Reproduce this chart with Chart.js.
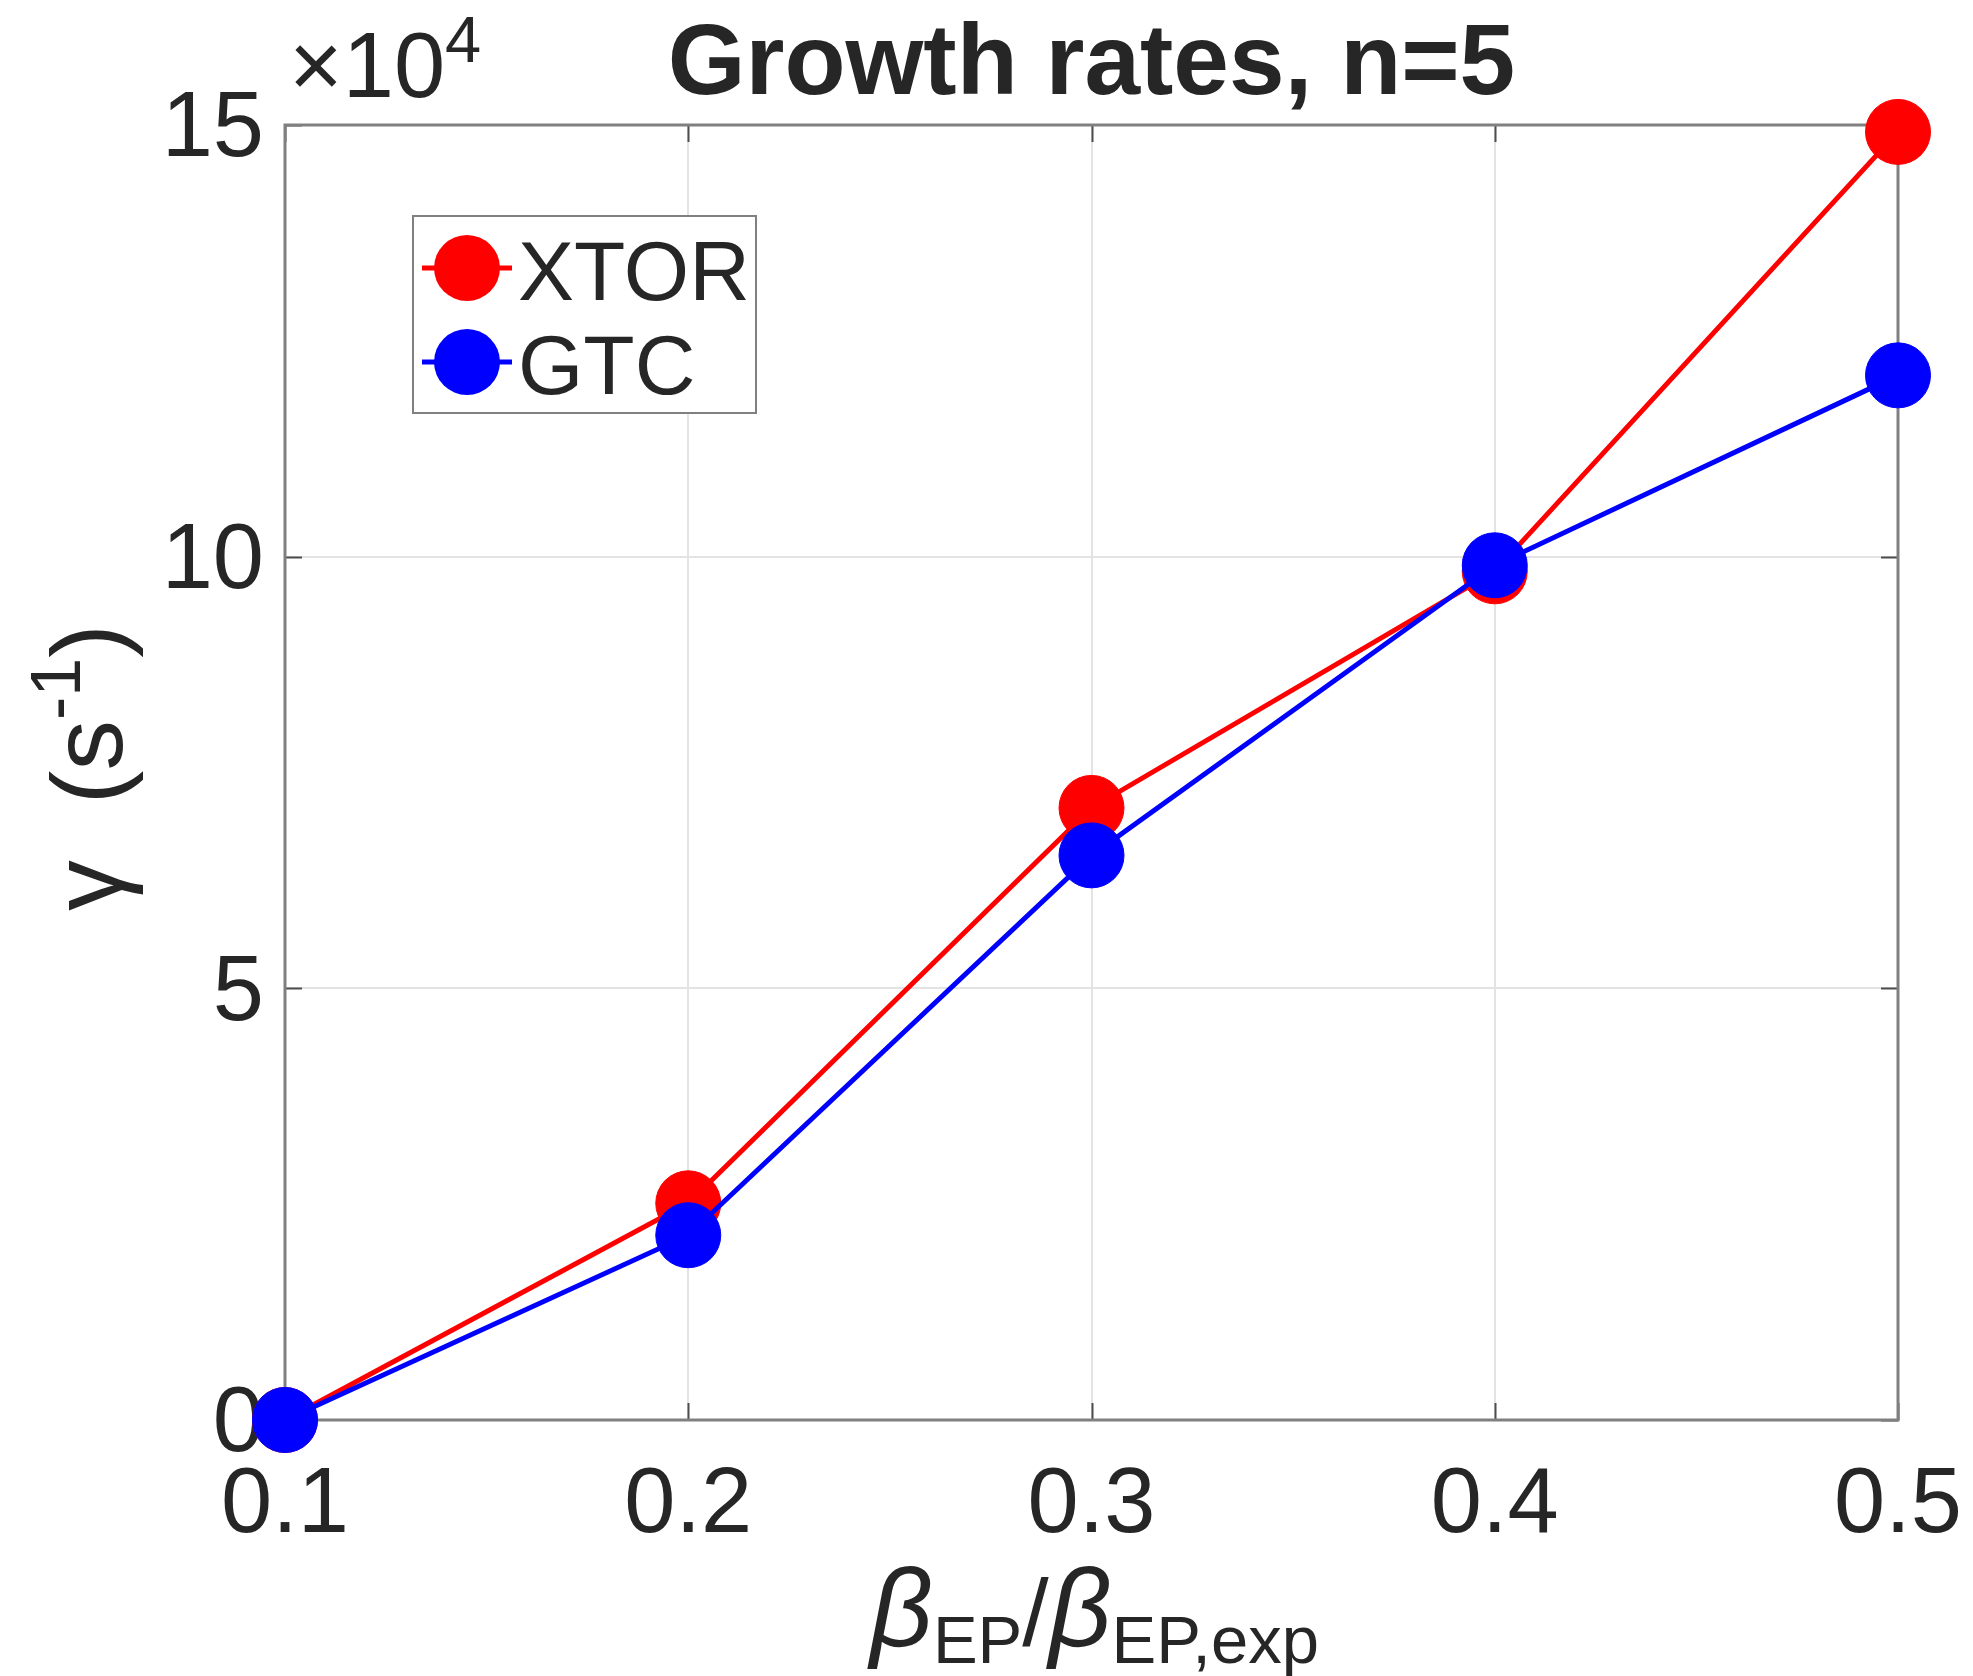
<!DOCTYPE html>
<html>
<head>
<meta charset="utf-8">
<title>Growth rates, n=5</title>
<script src="https://cdn.jsdelivr.net/npm/chart.js@4.4.1/dist/chart.umd.min.js"></script>
<style>
  html, body { margin: 0; padding: 0; background: #ffffff; }
  #wrap { width: 1973px; height: 1676px; position: relative; }
</style>
</head>
<body>
<div id="wrap"><canvas id="growth"></canvas></div>
<script>
// Normalised fast-particle beta (x) and linear growth rate gamma in s^-1 (y)
const betaRatio = [0.1, 0.2, 0.3, 0.4, 0.5];
const gammaXTOR = [0, 25100, 70900, 98300, 149200];
const gammaGTC  = [0, 21400, 65400, 99000, 121000];

const seriesNames  = ['XTOR', 'GTC'];
const seriesColors = ['#ff0000', '#0000ff'];

const xTickValues = [0.1, 0.2, 0.3, 0.4, 0.5];
const yTickValues = [0, 50000, 100000, 150000];
const yExponent = 4;

const titleText = 'Growth rates, n=5';

const INK = '#262626';
const FRAME = '#808080';
const FONT = '"Liberation Sans", Arial, Helvetica, sans-serif';

// Draw a sequence of text pieces (for sub/superscripts) along one baseline
function drawRuns(ctx, runs, x, y, align) {
  let total = 0;
  runs.forEach(r => {
    ctx.font = `${r.style || ''} ${r.size}px ${FONT}`;
    r.w = ctx.measureText(r.text).width;
    total += r.w + (r.gap || 0);
  });
  let cx = align === 'center' ? x - total / 2 : x;
  runs.forEach(r => {
    ctx.font = `${r.style || ''} ${r.size}px ${FONT}`;
    ctx.fillText(r.text, cx, y + (r.dy || 0));
    cx += r.w + (r.gap || 0);
  });
}

// Axes box and inward tick marks, beneath the data
const framePlugin = {
  id: 'frame',
  beforeDatasetsDraw(chart) {
    const { ctx, chartArea: a, scales } = chart;
    ctx.save();
    ctx.strokeStyle = '#4d4d4d';
    ctx.lineWidth = 2;
    const tl = 17;
    ctx.beginPath();
    xTickValues.forEach(v => {
      const px = Math.round(scales.x.getPixelForValue(v)) + 0.5;
      ctx.moveTo(px, a.bottom); ctx.lineTo(px, a.bottom - tl);
      ctx.moveTo(px, a.top); ctx.lineTo(px, a.top + tl);
    });
    yTickValues.forEach(v => {
      const py = Math.round(scales.y.getPixelForValue(v)) + 0.5;
      ctx.moveTo(a.left, py); ctx.lineTo(a.left + tl, py);
      ctx.moveTo(a.right, py); ctx.lineTo(a.right - tl, py);
    });
    ctx.stroke();
    ctx.strokeStyle = FRAME;
    ctx.lineWidth = 3;
    ctx.strokeRect(a.left, a.top, a.right - a.left, a.bottom - a.top);
    ctx.restore();
  }
};

// Boxed legend with line-and-marker samples
const legendPlugin = {
  id: 'boxLegend',
  afterDatasetsDraw(chart) {
    const { ctx } = chart;
    const box = { x: 413, y: 216, w: 343, h: 197 };
    ctx.save();
    ctx.fillStyle = '#ffffff';
    ctx.fillRect(box.x, box.y, box.w, box.h);
    ctx.strokeStyle = FRAME;
    ctx.lineWidth = 2;
    ctx.strokeRect(box.x, box.y, box.w, box.h);
    chart.data.datasets.forEach((ds, i) => {
      const cy = 268 + i * 94;
      ctx.strokeStyle = ds.borderColor;
      ctx.lineWidth = 5;
      ctx.beginPath();
      ctx.moveTo(422, cy); ctx.lineTo(512, cy);
      ctx.stroke();
      ctx.fillStyle = ds.backgroundColor;
      ctx.beginPath();
      ctx.arc(467, cy, 33, 0, Math.PI * 2);
      ctx.fill();
      ctx.fillStyle = INK;
      ctx.font = `84px ${FONT}`;
      ctx.textAlign = 'left';
      ctx.textBaseline = 'alphabetic';
      ctx.fillText(ds.label, 518, cy + 32);
    });
    ctx.restore();
  }
};

// Title, exponent marker and axis titles
const textPlugin = {
  id: 'texts',
  afterDraw(chart) {
    const { ctx, chartArea: a } = chart;
    const midX = (a.left + a.right) / 2;
    const midY = (a.top + a.bottom) / 2;
    ctx.save();
    ctx.fillStyle = INK;
    ctx.textBaseline = 'alphabetic';

    ctx.textAlign = 'center';
    ctx.font = `bold 100px ${FONT}`;
    ctx.fillText(titleText, midX, 94);

    ctx.textAlign = 'left';
    drawRuns(ctx, [
      { text: '\u00d710', size: 92 },
      { text: String(yExponent), size: 65, dy: -35 }
    ], a.left + 4, 97, 'left');

    drawRuns(ctx, [
      { text: '\u03b2', size: 110, style: 'italic' },
      { text: 'EP', size: 67, dy: 17 },
      { text: '/', size: 95 },
      { text: '\u03b2', size: 110, style: 'italic' },
      { text: 'EP,exp', size: 67, dy: 17 }
    ], midX + 3, 1646, 'center');

    ctx.translate(122, midY - 5);
    ctx.rotate(-Math.PI / 2);
    drawRuns(ctx, [
      { text: '\u03b3  (s', size: 101 },
      { text: '-1', size: 70, dy: -42 },
      { text: ')', size: 101 }
    ], 0, 0, 'center');
    ctx.restore();
  }
};

const makePoints = ys => betaRatio.map((x, i) => ({ x, y: ys[i] }));

new Chart(document.getElementById('growth'), {
  type: 'line',
  data: {
    datasets: [
      {
        label: seriesNames[0],
        data: makePoints(gammaXTOR),
        borderColor: seriesColors[0],
        backgroundColor: seriesColors[0],
        pointBackgroundColor: seriesColors[0],
        pointBorderColor: seriesColors[0],
        borderWidth: 5,
        pointRadius: 32.5,
        pointBorderWidth: 1,
        tension: 0,
        clip: false,
        order: 2
      },
      {
        label: seriesNames[1],
        data: makePoints(gammaGTC),
        borderColor: seriesColors[1],
        backgroundColor: seriesColors[1],
        pointBackgroundColor: seriesColors[1],
        pointBorderColor: seriesColors[1],
        borderWidth: 5,
        pointRadius: 32.5,
        pointBorderWidth: 1,
        tension: 0,
        clip: false,
        order: 1
      }
    ]
  },
  options: {
    responsive: true,
    maintainAspectRatio: false,
    animation: false,
    events: [],
    layout: { padding: { top: 125, right: 75, left: 0, bottom: 0 } },
    plugins: {
      legend: { display: false },
      title: { display: false },
      tooltip: { enabled: false }
    },
    scales: {
      x: {
        type: 'linear',
        position: 'bottom',
        min: 0.1,
        max: 0.5,
        afterBuildTicks: s => { s.ticks = xTickValues.map(v => ({ value: v })); },
        afterFit: s => { s.height = 256; s.paddingLeft = 0; s.paddingRight = 0; },
        grid: { color: '#e3e3e3', lineWidth: 2, drawTicks: false },
        border: { display: false },
        ticks: {
          padding: 31,
          color: INK,
          font: { family: FONT, size: 92 },
          maxRotation: 0,
          autoSkip: false,
          callback: v => v.toFixed(1)
        }
      },
      y: {
        type: 'linear',
        position: 'left',
        min: 0,
        max: 150000,
        afterBuildTicks: s => { s.ticks = yTickValues.map(v => ({ value: v })); },
        afterFit: s => { s.width = 285; s.paddingTop = 0; s.paddingBottom = 0; },
        grid: { color: '#e3e3e3', lineWidth: 2, drawTicks: false },
        border: { display: false },
        ticks: {
          padding: 21,
          labelOffset: 6,
          color: INK,
          font: { family: FONT, size: 92 },
          autoSkip: false,
          callback: v => String(Math.round(v / Math.pow(10, yExponent)))
        }
      }
    }
  },
  plugins: [framePlugin, legendPlugin, textPlugin]
});
</script>
</body>
</html>
